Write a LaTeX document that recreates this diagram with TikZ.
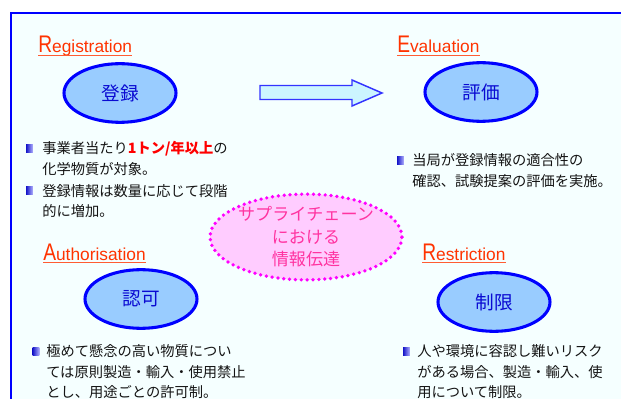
\documentclass[tikz,border=0pt]{standalone}
\usepackage{fontspec}
\usepackage{graphicx}
\setmainfont{Liberation Sans}
\newfontfamily\jp{Noto Sans CJK JP}
\usetikzlibrary{shapes.geometric}
\definecolor{framebl}{RGB}{0,0,255}
\definecolor{bgc}{RGB}{245,255,255}
\definecolor{ellfill}{RGB}{153,204,255}
\definecolor{elltext}{RGB}{10,10,210}
\definecolor{titlered}{RGB}{255,51,0}
\definecolor{arrowbl}{RGB}{51,51,255}
\definecolor{arrowfill}{RGB}{204,245,255}
\definecolor{pinkfill}{RGB}{255,204,255}
\definecolor{pinkline}{RGB}{255,0,255}
\definecolor{pinktext}{RGB}{255,51,160}
\definecolor{hl}{RGB}{255,0,0}
\definecolor{textcol}{RGB}{20,20,20}
\definecolor{buldark}{RGB}{20,20,200}
\definecolor{bullight}{RGB}{180,180,255}
\newcommand\BigInit[1]{{\fontsize{18}{18}\selectfont\scalebox{0.8}[1]{#1}}}
\begin{document}
\begin{tikzpicture}[x=0.75pt,y=-0.75pt,
  title/.style={anchor=base west, inner sep=0pt, text=titlered, font=\fontsize{13}{15}\selectfont},
  uline/.style={titlered!80, line width=0.7pt},
  ell/.style={ellipse, draw=framebl, line width=2.3pt, fill=ellfill, inner sep=0pt,
    minimum width=84pt, minimum height=44pt, text=elltext, font=\jp\fontsize{14}{14}\selectfont},
  jt/.style={anchor=base west, inner sep=0pt, text=textcol, font=\jp\fontsize{10.7}{12}\selectfont},
  bul/.style={rectangle, inner sep=0pt, minimum width=5.2pt, minimum height=6pt, left color=buldark, right color=bullight},
  sce/.style={ellipse, draw=pinkline, line width=2.8pt, dash pattern=on 0pt off 4.4pt, line cap=round,
    fill=pinkfill, inner sep=0pt, minimum width=129pt, minimum height=59pt, align=center,
    text=pinktext, font=\jp\fontsize{12.8}{16.9}\selectfont}]
\useasboundingbox (0,0) rectangle (621,399);
\begin{scope}
\clip (0,0) rectangle (621,399);
\draw[framebl, line width=1.7pt, fill=bgc] (11,13) rectangle (640,420);
\end{scope}

% titles
\node[title] (reg) at (38,53) {\BigInit{R}egistration};
\draw[uline] ([yshift=-1.6pt]reg.base west) -- ([yshift=-1.6pt]reg.base east);
\node[title] (eva) at (397,53) {\BigInit{E}valuation};
\draw[uline] ([yshift=-1.6pt]eva.base west) -- ([yshift=-1.6pt]eva.base east);
\node[title] (aut) at (43,260) {\BigInit{A}uthorisation};
\draw[uline] ([yshift=-1.6pt]aut.base west) -- ([yshift=-1.6pt]aut.base east);
\node[title] (res) at (422,260) {\BigInit{R}estriction};
\draw[uline] ([yshift=-1.6pt]res.base west) -- ([yshift=-1.6pt]res.base east);

% ellipses
\node[ell] (e1) at (120,93) {登録};
\node[ell] (e2) at (481,92) {評価};
\node[ell] (e3) at (141,299) {認可};
\node[ell] (e4) at (494,302) {制限};

% block arrow
\draw[draw=arrowbl, fill=arrowfill, line width=1.1pt]
  (260,85.5) -- (352,85.5) -- (352,80) -- (382,93) -- (352,106) -- (352,99.5) -- (260,99.5) -- cycle;

% center
\node[sce] (sc) at (306,237) {サプライチェーン\\における\\情報伝達};

% top left text
\node[bul] (b1) at (29.5,149) {};
\node[jt] (t1a) at (42,154) {事業者当たり{\bfseries\color{hl}1トン/年以上}の};
\node[jt] (t1b) at (42,175) {化学物質が対象。};
\node[bul] (b2) at (29.5,191) {};
\node[jt] (t2a) at (42,196) {登録情報は数量に応じて段階};
\node[jt] (t2b) at (42,216) {的に増加。};

% top right text
\node[bul] (b3) at (400.5,161) {};
\node[jt] (t3a) at (412,166) {当局が登録情報の適合性の};
\node[jt] (t3b) at (412,187) {確認、試験提案の評価を実施。};

% bottom left text
\node[bul] (b4) at (36,351) {};
\node[jt] (t4a) at (46,356) {極めて懸念の高い物質につい};
\node[jt] (t4b) at (46,377) {ては原則製造・輸入・使用禁止};
\node[jt] (t4c) at (46,397) {とし、用途ごとの許可制。};

% bottom right text
\node[bul] (b5) at (406.5,351) {};
\node[jt] (t5a) at (417,356) {人や環境に容認し難いリスク};
\node[jt] (t5b) at (417,377) {がある場合、製造・輸入、使};
\node[jt] (t5c) at (417,397) {用について制限。};
\end{tikzpicture}
\end{document}
